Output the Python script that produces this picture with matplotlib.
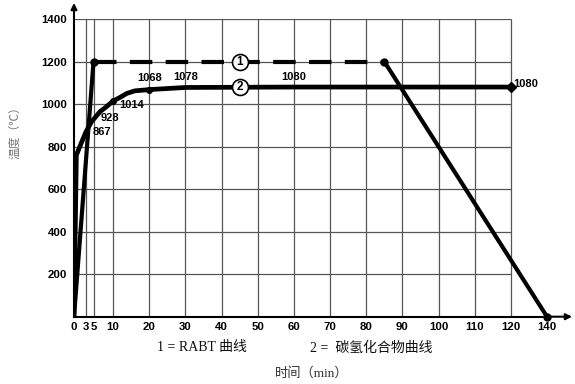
import numpy as np
import matplotlib
matplotlib.use('Agg')
import matplotlib.pyplot as plt

# Curve 1: RABT
rabt_t = [0, 5, 85, 140]
rabt_T = [0, 1200, 1200, 0]

# Curve 2: hydrocarbon
hc_t = [0, 0.6, 3, 4.5, 5, 6.7, 8, 10, 12, 13.8, 16, 20, 30, 60, 120]
hc_T = [0, 760, 867, 918, 928, 965, 983, 1014, 1032, 1050, 1062, 1068, 1078, 1080, 1080]

# labelled points on curve 2
lab_t = [3, 5, 10, 20, 30, 60, 120]
lab_T = [867, 928, 1014, 1068, 1078, 1080, 1080]

xticks = [0, 3, 5, 10, 20, 30, 40, 50, 60, 70, 80, 90, 100, 110, 120, 140]
yticks = [200, 400, 600, 800, 1000, 1200, 1400]
grid_x = [3, 5, 10, 20, 30, 40, 50, 60, 70, 80, 90, 100, 110, 120]

# x axis is uneven: 0-10 a bit wider, 120-140 squeezed into one step
knots = [-10, 0, 10, 120, 140, 200]
place = [-10.8, 0, 10.8, 120.8, 130.8, 160.8]


def fwd(x):
    return np.interp(x, knots, place)


def inv(x):
    return np.interp(x, place, knots)


tick_font = dict(family='Liberation Sans', weight='bold', size=8.2)
cjk = ['Liberation Serif', 'Noto Sans CJK SC']

fig = plt.figure(figsize=(5.75, 3.84), dpi=100)
ax = fig.add_axes([74 / 575, 1 - 316.7 / 384, 473 / 575, 297.7 / 384])
ax.set_xscale('function', functions=(fwd, inv))
ax.set_xlim(0, 140)
ax.set_ylim(0, 1400)

for s in ['top', 'right']:
    ax.spines[s].set_visible(False)
for s in ['left', 'bottom']:
    ax.spines[s].set_linewidth(1.5)
    ax.spines[s].set_zorder(6)

# grid only spans 0-120
ax.vlines(grid_x, 0, 1400, color='#555555', lw=0.9, zorder=1)
ax.hlines(yticks, 0, 120, color='#555555', lw=0.9, zorder=1)

ax.set_xticks(xticks)
ax.set_xticklabels([str(v) for v in xticks], fontdict=tick_font)
ax.set_yticks(yticks)
ax.set_yticklabels([str(v) for v in yticks], fontdict=tick_font)
ax.tick_params(length=0)
ax.tick_params(axis='x', pad=4)
ax.tick_params(axis='y', pad=5)

# axis arrows
ax.annotate('', xy=(1.053, 0), xytext=(1, 0), xycoords='axes fraction',
            arrowprops=dict(arrowstyle='-|>', lw=1.5, color='black',
                            shrinkA=0, shrinkB=0, mutation_scale=9),
            annotation_clip=False)
ax.annotate('', xy=(0, 1.054), xytext=(0, 1), xycoords='axes fraction',
            arrowprops=dict(arrowstyle='-|>', lw=1.5, color='black',
                            shrinkA=0, shrinkB=0, mutation_scale=9),
            annotation_clip=False)

# curve 2
ax.plot(hc_t, hc_T, color='black', lw=3.4, solid_joinstyle='round',
        solid_capstyle='round', zorder=4)
ax.plot([hc_t[-1]], [hc_T[-1]], 'D', color='black', ms=5, zorder=5, clip_on=False)
ax.plot(lab_t[2:4], lab_T[2:4], 'o', color='black', ms=4, zorder=5)

# curve 1
ax.plot(rabt_t[:2], rabt_T[:2], color='black', lw=3, solid_capstyle='round', zorder=4)
ax.plot(rabt_t[1:3], rabt_T[1:3], color='black', lw=3, dashes=(5.4, 3.2),
        dash_capstyle='butt', zorder=4)
ax.plot(rabt_t[2:], rabt_T[2:], color='black', lw=3, solid_capstyle='round',
        zorder=4, clip_on=False)
ax.plot(rabt_t[1:], rabt_T[1:], 'o', color='black', ms=5, zorder=5, clip_on=False)

# circled curve numbers
for num, T in [('1', 1200), ('2', 1080)]:
    ax.plot([45], [T], 'o', ms=11.5, mfc='white', mec='black', mew=1.2, zorder=7)
    ax.text(45, T, num, ha='center', va='center', zorder=8,
            family='Liberation Sans', weight='bold', size=8.5)

# value labels on curve 2
offsets = [(5, 0, 'left'), (5, 1, 'left'), (4.3, -3, 'left'), (0, 8.4, 'center'),
           (0, 7.6, 'center'), (0, 7.3, 'center'), (2, 2, 'left')]
for t, T, (dx, dy, ha) in zip(lab_t, lab_T, offsets):
    ax.annotate(str(T), (t, T), xytext=(dx, dy), textcoords='offset points',
                ha=ha, va='center', fontsize=8, family='Liberation Sans',
                weight='bold', zorder=9, annotation_clip=False)

# legend lines and axis titles
fig.text(157 / 575, 1 - 347 / 384, '1 = RABT 曲线', family=cjk, size=10,
         va='center', ha='left', color='#111111')
fig.text(310 / 575, 1 - 348 / 384, '2 =  碳氢化合物曲线', family=cjk, size=10,
         va='center', ha='left', color='#111111')
fig.text(275 / 575, 1 - 373 / 384, '时间（min）', family=cjk, size=9.5,
         va='center', ha='left', color='#333333')
fig.text(15 / 575, 1 - 130 / 384, '温度（℃）', family=cjk, size=8.5,
         rotation=90, va='center', ha='center', color='#777777')

fig.savefig('out.png', dpi=100)
